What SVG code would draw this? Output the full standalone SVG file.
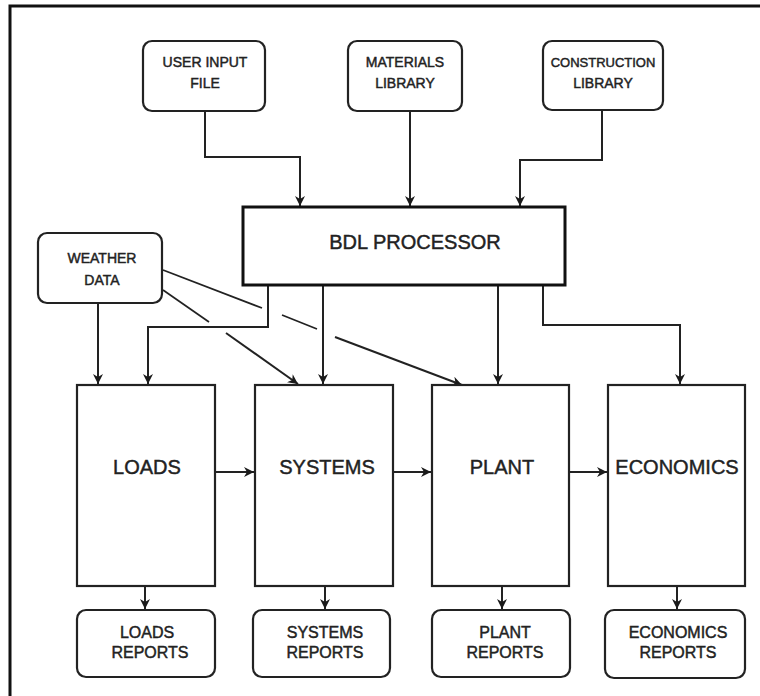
<svg xmlns="http://www.w3.org/2000/svg" width="760" height="696" viewBox="0 0 760 696">
<defs>
<marker id="ah" viewBox="0 0 10 10" refX="10" refY="5" markerWidth="10" markerHeight="10" markerUnits="userSpaceOnUse" orient="auto">
<path d="M0,0 L10,5 L0,10 L3,5 Z" fill="#1a1a1a"/>
</marker>
<style>
.bg{fill:#ffffff}
.frame{fill:none;stroke:#111;stroke-width:3}
.rbox{fill:#fff;stroke:#222;stroke-width:2.2}
.mbox{fill:#fff;stroke:#222;stroke-width:2.2}
.bdl{fill:#fff;stroke:#111;stroke-width:3}
.c{fill:none;stroke:#222;stroke-width:2;marker-end:url(#ah)}
.d{fill:none;stroke:#222;stroke-width:1.8}
.t{font-family:"Liberation Sans",Arial,sans-serif;fill:#222;stroke:#222;stroke-width:0.45;text-anchor:middle}
.s14{font-size:14px}
.s16{font-size:16px}
.s20{font-size:20px}
</style>
</defs>
<rect class="bg" x="0" y="0" width="760" height="696"/>
<path class="frame" d="M10,696 V6 H760"/>

<g id="connectors">
<path class="c" d="M205,112 V157 H300 V206"/>
<path class="c" d="M410,112 V206"/>
<path class="c" d="M602,111 V160 H520 V206"/>
<path class="c" d="M98,303 V384"/>
<path class="c" d="M268,286 V327 H148 V384"/>
<path class="c" d="M323,286 V384"/>
<path class="c" d="M498,286 V384"/>
<path class="c" d="M543,286 V325 H680 V384"/>
<path class="d" d="M163,290 L209,322"/>
<path class="c" d="M226,333 L298,384"/>
<path class="d" d="M163,270 L262,308"/>
<path class="d" d="M282,315 L317,329"/>
<path class="c" d="M335,337 L462,385"/>
<path class="c" d="M215,472 L254,472"/>
<path class="c" d="M393,472 L431,472"/>
<path class="c" d="M569,472 L607,472"/>
<path class="c" d="M145,586 V609"/>
<path class="c" d="M325,586 V609"/>
<path class="c" d="M502,586 V609"/>
<path class="c" d="M677,586 V609"/>
</g>

<g id="user-input-file">
<rect class="rbox" x="143" y="41" width="122" height="70" rx="9"/>
<text class="t s14" x="205" y="67">USER INPUT</text>
<text class="t s14" x="205" y="88">FILE</text>
</g>
<g id="materials-library">
<rect class="rbox" x="348" y="41" width="114" height="70" rx="9"/>
<text class="t s14" x="405" y="67">MATERIALS</text>
<text class="t s14" x="405" y="88">LIBRARY</text>
</g>
<g id="construction-library">
<rect class="rbox" x="543" y="41" width="120" height="69" rx="9"/>
<text class="t" style="font-size:13px" x="603" y="67">CONSTRUCTION</text>
<text class="t s14" x="603" y="88">LIBRARY</text>
</g>
<g id="bdl-processor">
<rect class="bdl" x="243" y="207" width="322" height="78"/>
<text class="t s20" x="415" y="249">BDL PROCESSOR</text>
</g>
<g id="weather-data">
<rect class="rbox" x="38" y="233" width="124" height="70" rx="9"/>
<text class="t s14" x="102" y="263">WEATHER</text>
<text class="t s14" x="102" y="285">DATA</text>
</g>
<g id="loads">
<rect class="mbox" x="77" y="385" width="138" height="201"/>
<text class="t s20" x="147" y="474">LOADS</text>
</g>
<g id="systems">
<rect class="mbox" x="255" y="385" width="138" height="201"/>
<text class="t s20" x="327" y="474">SYSTEMS</text>
</g>
<g id="plant">
<rect class="mbox" x="432" y="385" width="137" height="201"/>
<text class="t s20" x="502" y="474">PLANT</text>
</g>
<g id="economics">
<rect class="mbox" x="608" y="385" width="137" height="201"/>
<text class="t s20" x="677" y="474">ECONOMICS</text>
</g>
<g id="loads-reports">
<rect class="rbox" x="77" y="610" width="138" height="67" rx="9"/>
<text class="t s16" x="147" y="638">LOADS</text>
<text class="t s16" x="150" y="658">REPORTS</text>
</g>
<g id="systems-reports">
<rect class="rbox" x="253" y="610" width="137" height="67" rx="9"/>
<text class="t s16" x="325" y="638">SYSTEMS</text>
<text class="t s16" x="325" y="658">REPORTS</text>
</g>
<g id="plant-reports">
<rect class="rbox" x="432" y="610" width="138" height="67" rx="9"/>
<text class="t s16" x="505" y="638">PLANT</text>
<text class="t s16" x="505" y="658">REPORTS</text>
</g>
<g id="economics-reports">
<rect class="rbox" x="605" y="610" width="140" height="68" rx="9"/>
<text class="t s16" x="678" y="638">ECONOMICS</text>
<text class="t s16" x="678" y="658">REPORTS</text>
</g>
</svg>
